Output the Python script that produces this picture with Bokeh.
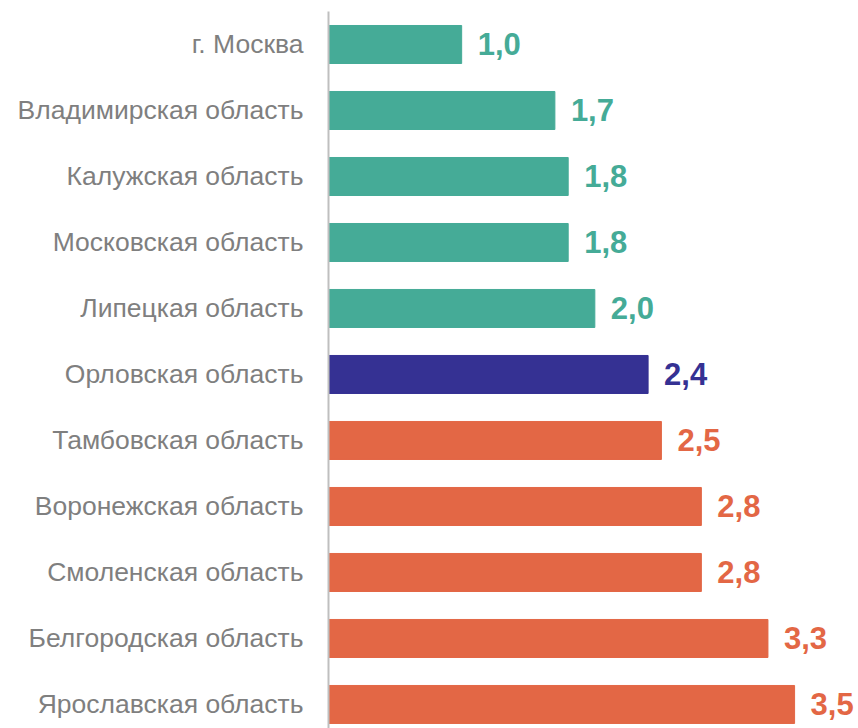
from bokeh.plotting import figure
from bokeh.models import Range1d, FixedTicker, ColumnDataSource
from bokeh.core.properties import value
from bokeh.embed import file_html
from bokeh.resources import INLINE

regions = ["г. Москва", "Владимирская область", "Калужская область", "Московская область",
           "Липецкая область", "Орловская область", "Тамбовская область", "Воронежская область",
           "Смоленская область", "Белгородская область", "Ярославская область"]
values = [1.0, 1.7, 1.8, 1.8, 2.0, 2.4, 2.5, 2.8, 2.8, 3.3, 3.5]
value_labels = ["1,0", "1,7", "1,8", "1,8", "2,0", "2,4", "2,5", "2,8", "2,8", "3,3", "3,5"]
TEAL, NAVY, ORANGE = "#45AB97", "#353193", "#E36745"
colors = [TEAL] * 5 + [NAVY] + [ORANGE] * 5

pos = list(range(len(regions)))
src = ColumnDataSource(dict(y=pos, v=values, lab=value_labels, c=colors))

p = figure(width=858, height=728, output_backend="svg", toolbar_location=None,
           x_range=Range1d(0, 3.98), y_range=Range1d(10.364, -0.5),
           min_border_left=328, min_border_right=0, min_border_top=11, min_border_bottom=0,
           outline_line_color=None, background_fill_color="white", border_fill_color="white")

p.hbar(y="y", left=0, right="v", height=0.576, color="c", source=src)
p.text(x="v", y="y", text="lab", text_color="c", source=src, x_offset=16,
       text_baseline="middle", text_align="left", text_font=value("Liberation Sans"),
       text_font_style="bold", text_font_size="31px")

p.xaxis.visible = False
p.xgrid.visible = False
p.ygrid.visible = False
ya = p.yaxis[0]
ya.ticker = FixedTicker(ticks=pos)
ya.major_label_overrides = {i: r for i, r in enumerate(regions)}
ya.major_tick_line_color = None
ya.minor_tick_line_color = None
ya.axis_line_color = "#BFBFBF"
ya.axis_line_width = 2
ya.major_label_standoff = 19
ya.major_label_text_font = "Liberation Sans"
ya.major_label_text_font_size = "26.5px"
ya.major_label_text_color = "#7F7F7F"

open("out.html", "w").write(file_html(p, INLINE))
